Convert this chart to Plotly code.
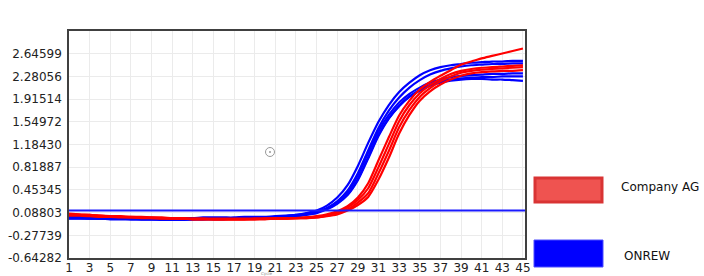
import plotly.graph_objects as go

cycles = list(range(1, 46))

blue_curves = [
    [0.02,0.02,0.01,0.01,0.01,0.00,0.00,0.00,0.00,0.00, 0.00,0.00,0.00,0.01,0.01,0.01,0.01,0.02,0.02,0.02,
     0.03,0.04,0.05,0.08,0.12,0.20,0.33,0.53,0.84,1.21, 1.55,1.82,2.03,2.18,2.30,2.38,2.43,2.46,2.48,2.50,
     2.51,2.52,2.52,2.53,2.53],
    [0.01,0.01,0.00,0.00,0.00,0.00,-0.01,-0.01,-0.01,-0.01, -0.01,-0.01,-0.01,0.00,0.00,0.00,0.00,0.01,0.01,0.01,
     0.02,0.03,0.05,0.07,0.10,0.16,0.27,0.44,0.72,1.09, 1.45,1.73,1.94,2.10,2.22,2.31,2.37,2.41,2.44,2.46,
     2.47,2.48,2.48,2.49,2.49],
    [0.00,0.00,0.00,-0.01,-0.01,-0.01,-0.01,-0.02,-0.02,-0.02, -0.02,-0.02,-0.02,-0.01,-0.01,-0.01,-0.01,0.00,0.00,0.01,
     0.01,0.02,0.04,0.07,0.10,0.16,0.26,0.42,0.69,1.05, 1.40,1.66,1.86,2.00,2.10,2.18,2.23,2.27,2.29,2.30,
     2.31,2.32,2.32,2.33,2.33],
    [-0.01,-0.01,-0.01,-0.01,-0.02,-0.02,-0.02,-0.02,-0.02,-0.03, -0.03,-0.03,-0.02,-0.02,-0.02,-0.02,-0.01,-0.01,-0.01,0.00,
     0.01,0.02,0.03,0.06,0.09,0.15,0.24,0.38,0.63,0.98, 1.34,1.61,1.81,1.96,2.06,2.14,2.20,2.23,2.25,2.26,
     2.27,2.27,2.28,2.28,2.28],
    [0.00,0.00,-0.01,-0.01,-0.01,-0.01,-0.02,-0.02,-0.02,-0.02, -0.02,-0.02,-0.02,-0.02,-0.01,-0.01,-0.01,-0.01,0.00,0.00,
     0.01,0.02,0.03,0.05,0.08,0.14,0.23,0.37,0.61,0.96, 1.32,1.60,1.80,1.95,2.05,2.13,2.18,2.21,2.23,2.24,
     2.24,2.23,2.23,2.22,2.21],
]

red_curves = [
    [0.07,0.06,0.05,0.04,0.03,0.03,0.02,0.02,0.01,0.01, 0.00,0.00,-0.01,-0.01,-0.01,-0.01,-0.01,-0.01,-0.01,-0.01,
     0.00,0.00,0.00,0.01,0.03,0.06,0.11,0.19,0.33,0.56, 0.93,1.30,1.65,1.89,2.07,2.19,2.29,2.38,2.47,2.52,
     2.57,2.61,2.65,2.69,2.73],
    [0.06,0.05,0.05,0.04,0.03,0.02,0.02,0.01,0.01,0.00, 0.00,-0.01,-0.01,-0.01,-0.02,-0.02,-0.02,-0.02,-0.01,-0.01,
     -0.01,0.00,0.00,0.01,0.02,0.05,0.09,0.17,0.29,0.48, 0.82,1.19,1.56,1.82,2.01,2.14,2.24,2.32,2.37,2.40,
     2.42,2.43,2.44,2.45,2.46],
    [0.05,0.05,0.04,0.03,0.02,0.02,0.01,0.01,0.00,0.00, -0.01,-0.01,-0.02,-0.02,-0.02,-0.02,-0.02,-0.02,-0.02,-0.01,
     -0.01,-0.01,0.00,0.00,0.01,0.04,0.07,0.14,0.25,0.40, 0.72,1.08,1.46,1.74,1.95,2.09,2.20,2.28,2.34,2.37,
     2.39,2.40,2.41,2.42,2.43],
    [0.04,0.04,0.03,0.02,0.02,0.01,0.01,0.00,0.00,-0.01, -0.01,-0.01,-0.02,-0.02,-0.02,-0.02,-0.02,-0.02,-0.02,-0.02,
     -0.01,-0.01,0.00,0.00,0.01,0.03,0.06,0.12,0.21,0.34, 0.62,0.97,1.36,1.66,1.89,2.04,2.15,2.23,2.29,2.33,
     2.35,2.36,2.37,2.37,2.38],
]

threshold = 0.12

y_tick_labels = ["-0.64282", "-0.27739", "0.08803", "0.45345", "0.81887",
                 "1.18430", "1.54972", "1.91514", "2.28056", "2.64599"]
y_tick_vals = [float(t) for t in y_tick_labels]
y_min = -0.64282
y_max = 3.01141
x_tick_vals = list(range(1, 46, 2))

series_names = ["Company AG", "ONREW"]
BLUE = "#0000FF"
RED = "#FF0000"

fig = go.Figure()
for ys in blue_curves:
    fig.add_trace(go.Scatter(x=cycles, y=ys, mode="lines",
                             line=dict(color=BLUE, width=2.2, shape="spline", smoothing=0.7),
                             showlegend=False, hoverinfo="skip"))
for ys in red_curves:
    fig.add_trace(go.Scatter(x=cycles, y=ys, mode="lines",
                             line=dict(color=RED, width=2.2, shape="spline", smoothing=0.7),
                             showlegend=False, hoverinfo="skip"))
fig.add_trace(go.Scatter(x=[cycles[0], cycles[-1] + 0.2], y=[threshold, threshold], mode="lines",
                         line=dict(color="#1a1aff", width=2),
                         showlegend=False, hoverinfo="skip"))

tick_font = dict(family="DejaVu Sans", size=12, color="#222222")

fig.update_xaxes(range=[1, 45.2], tickvals=x_tick_vals, ticktext=[str(v) for v in x_tick_vals],
                 showgrid=True, gridcolor="#EBEBEB", gridwidth=1, automargin=False,
                 showline=True, linecolor="#404040", linewidth=1.5, mirror=True,
                 ticks="", tickfont=tick_font, zeroline=False, ticklabelstandoff=-2)
fig.update_yaxes(range=[y_min, y_max], tickvals=y_tick_vals, ticktext=y_tick_labels,
                 showgrid=True, gridcolor="#EBEBEB", gridwidth=1, automargin=False,
                 showline=True, linecolor="#404040", linewidth=1.5, mirror=True,
                 ticks="", tickfont=tick_font, zeroline=False, ticklabelstandoff=3)

# custom legend (paper coordinates relative to plot area)
W, H = 456.0, 227.0
def px(x):
    return (x - 69) / W
def py(y):
    return (258 - y) / H

shapes = [
    dict(type="rect", xref="paper", yref="paper", x0=px(535), x1=px(602), y0=py(202), y1=py(178),
         fillcolor="#EF5350", line=dict(color="#D93434", width=3)),
    dict(type="rect", xref="paper", yref="paper", x0=px(534), x1=px(603), y0=py(267), y1=py(240),
         fillcolor="#0000FF", line=dict(color="#4d4dff", width=1)),
    dict(type="circle", xref="paper", yref="paper", x0=px(265.5), x1=px(274.5), y0=py(156.5), y1=py(147.5),
         line=dict(color="#9a9a9a", width=1)),
    dict(type="circle", xref="paper", yref="paper", x0=px(269), x1=px(271), y0=py(153), y1=py(151),
         fillcolor="#9a9a9a", line=dict(color="#9a9a9a", width=0)),
]
annotations = [
    dict(xref="paper", yref="paper", x=px(619), y=py(187), text=series_names[0], showarrow=False,
         xanchor="left", yanchor="middle", font=dict(family="DejaVu Sans", size=12, color="#111111")),
    dict(xref="paper", yref="paper", x=px(622), y=py(256), text=series_names[1], showarrow=False,
         xanchor="left", yanchor="middle", font=dict(family="DejaVu Sans", size=12, color="#111111")),
    dict(xref="paper", yref="paper", x=px(266), y=py(273), text="Cycle", showarrow=False,
         xanchor="center", yanchor="middle", font=dict(family="DejaVu Sans", size=4, color="#888888")),
]

fig.update_layout(width=704, height=276, margin=dict(l=69, r=179, t=31, b=18),
                  paper_bgcolor="white", plot_bgcolor="white", showlegend=False,
                  shapes=shapes, annotations=annotations)

fig.write_html("out.html")
